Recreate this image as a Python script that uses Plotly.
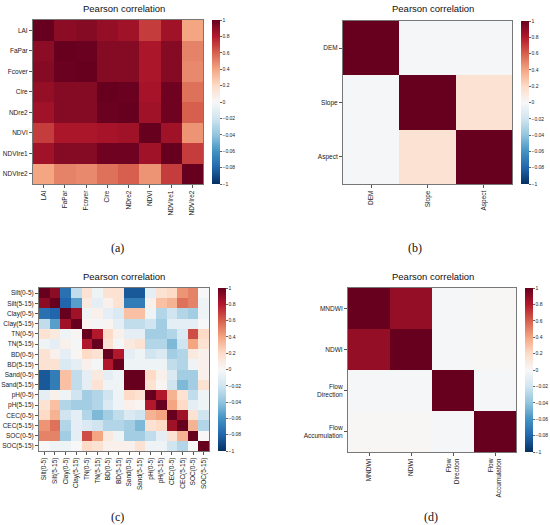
import plotly.graph_objects as go

W, H = 550, 525

# (a) vegetation indices
veg_labels = ["LAI", "FaPar", "Fcover", "Cire", "NDre2", "NDVI", "NDVIre1", "NDVIre2"]
veg_corr = [
    [1.00, 0.90, 0.92, 0.88, 0.85, 0.70, 0.85, 0.40],
    [0.90, 1.00, 0.99, 0.92, 0.92, 0.82, 0.92, 0.50],
    [0.92, 0.99, 1.00, 0.92, 0.92, 0.82, 0.92, 0.48],
    [0.88, 0.92, 0.92, 1.00, 0.99, 0.83, 0.98, 0.55],
    [0.85, 0.92, 0.92, 0.99, 1.00, 0.85, 0.98, 0.60],
    [0.70, 0.82, 0.82, 0.83, 0.85, 1.00, 0.85, 0.45],
    [0.85, 0.92, 0.92, 0.98, 0.98, 0.85, 1.00, 0.70],
    [0.40, 0.50, 0.48, 0.55, 0.60, 0.45, 0.70, 1.00],
]

# (b) terrain
terrain_labels = ["DEM", "Slope", "Aspect"]
terrain_corr = [
    [1.00, -0.01, -0.01],
    [-0.01, 1.00, 0.15],
    [-0.01, 0.15, 1.00],
]

# (c) soil properties
soil_labels = ["Silt(0-5)", "Silt(5-15)", "Clay(0-5)", "Clay(5-15)", "TN(0-5)", "TN(5-15)",
               "BD(0-5)", "BD(5-15)", "Sand(0-5)", "Sand(5-15)", "pH(0-5)", "pH(5-15)",
               "CEC(0-5)", "CEC(5-15)", "SOC(0-5)", "SOC(5-15)"]
soil_corr = [
    [1.00, 0.90, -0.75, -0.25, 0.15, -0.05, 0.15, 0.15, -0.85, -0.85, -0.10, 0.15, 0.20, 0.45, 0.50, 0.00],
    [0.90, 1.00, -0.80, -0.55, 0.10, -0.10, 0.05, 0.15, -0.70, -0.70, 0.05, 0.30, 0.35, 0.55, 0.50, -0.05],
    [-0.75, -0.80, 1.00, 0.85, -0.05, 0.05, -0.10, -0.15, 0.30, 0.30, -0.05, -0.30, -0.20, -0.30, -0.35, -0.05],
    [-0.25, -0.55, 0.85, 1.00, 0.02, -0.02, 0.02, -0.10, -0.25, -0.25, -0.20, -0.35, -0.10, -0.10, -0.10, 0.00],
    [0.15, 0.10, -0.05, 0.02, 1.00, 0.80, 0.20, 0.05, -0.10, -0.10, -0.35, -0.35, -0.30, -0.15, 0.65, 0.20],
    [-0.05, -0.10, 0.05, -0.02, 0.80, 1.00, 0.15, -0.02, 0.10, 0.15, -0.30, -0.30, -0.45, -0.20, 0.40, 0.15],
    [0.15, 0.05, -0.10, 0.02, 0.20, 0.15, 1.00, 0.80, -0.10, -0.05, -0.20, -0.15, -0.35, -0.30, 0.10, 0.05],
    [0.15, 0.15, -0.15, -0.10, 0.05, -0.02, 0.80, 1.00, -0.05, -0.05, -0.05, -0.05, -0.25, -0.30, -0.05, 0.05],
    [-0.85, -0.70, 0.30, -0.25, -0.10, 0.10, -0.10, -0.05, 1.00, 1.00, 0.20, 0.05, -0.15, -0.35, -0.35, 0.05],
    [-0.85, -0.70, 0.30, -0.25, -0.10, 0.15, -0.05, -0.05, 1.00, 1.00, 0.15, 0.02, -0.20, -0.45, -0.35, 0.15],
    [-0.10, 0.05, -0.05, -0.20, -0.35, -0.30, -0.20, -0.05, 0.20, 0.15, 1.00, 0.80, 0.35, 0.15, -0.25, -0.05],
    [0.15, 0.30, -0.30, -0.35, -0.35, -0.30, -0.15, -0.05, 0.05, 0.02, 0.80, 1.00, 0.40, 0.20, -0.10, -0.05],
    [0.20, 0.35, -0.20, -0.10, -0.30, -0.45, -0.35, -0.25, -0.15, -0.20, 0.35, 0.40, 1.00, 0.85, 0.15, -0.20],
    [0.45, 0.55, -0.30, -0.10, -0.15, -0.20, -0.30, -0.30, -0.35, -0.45, 0.15, 0.20, 0.85, 1.00, 0.35, -0.30],
    [0.50, 0.50, -0.35, -0.10, 0.65, 0.40, 0.10, -0.05, -0.35, -0.35, -0.25, -0.10, 0.15, 0.35, 1.00, 0.00],
    [0.00, -0.05, -0.05, 0.00, 0.20, 0.15, 0.05, 0.05, 0.05, 0.15, -0.05, -0.05, -0.20, -0.30, 0.00, 1.00],
]

# (d) water / hydrology
water_labels = ["MNDWI", "NDWI", "Flow<br>Direction", "Flow<br>Accumulation"]
water_corr = [
    [1.00, 0.88, -0.01, 0.01],
    [0.88, 1.00, -0.01, 0.01],
    [-0.01, -0.01, 1.00, -0.01],
    [0.01, 0.01, -0.01, 1.00],
]

# colorbar ticks (labels as printed in the figure)
cbar_vals = [1, 0.8, 0.6, 0.4, 0.2, 0, -0.2, -0.4, -0.6, -0.8, -1]
cbar_text = ["1", "0.8", "0.6", "0.4", "0.2", "0", "\u22120.02", "\u22120.04", "\u22120.06", "\u22120.08", "\u22121"]

# matplotlib RdBu_r
rdbu_r = [
    [0.0, "#053061"], [0.1, "#2166ac"], [0.2, "#4393c3"], [0.3, "#92c5de"],
    [0.4, "#d1e5f0"], [0.5, "#f7f7f7"], [0.6, "#fddbc7"], [0.7, "#f4a582"],
    [0.8, "#d6604d"], [0.9, "#b2182b"], [1.0, "#67001f"],
]

# pixel boxes: left, right, top, bottom of each heatmap
panels = [
    (veg_labels, veg_corr, (33, 203, 20, 184), "(a)", 124, 8, 117, 248),
    (terrain_labels, terrain_corr, (343, 512, 21, 184), "(b)", 433, 8, 415, 248),
    (soil_labels, soil_corr, (39, 209, 288, 451), "(c)", 124, 276, 117, 517),
    (water_labels, water_corr, (348, 516, 288, 452), "(d)", 433, 276, 431, 517),
]

font_family = "Liberation Sans, Arial, sans-serif"
fig = go.Figure()
annotations = []

for i, (labels, corr, box, cap, tx, ty, cx, cy) in enumerate(panels, start=1):
    x0, x1, y0, y1 = box
    sfx = "" if i == 1 else str(i)
    fig.add_trace(go.Heatmap(
        z=corr, x=labels, y=labels,
        xaxis="x" + sfx, yaxis="y" + sfx,
        colorscale=rdbu_r, zmin=-1, zmax=1,
        xgap=0, ygap=0,
        colorbar=dict(
            x=(x1 + 9) / W, xanchor="left",
            y=1 - (y0 + y1) / 2 / H, yanchor="middle",
            len=(y1 - y0) / H, lenmode="fraction",
            thickness=8, outlinewidth=0, xpad=0, ypad=0,
            tickvals=cbar_vals, ticktext=cbar_text,
            ticks="outside", ticklen=2, tickwidth=0.5, tickcolor="#666",
            tickfont=dict(size=5, color="#222", family=font_family),
        ),
    ))
    axis_common = dict(
        showgrid=False, zeroline=False, showline=True, mirror=True,
        linecolor="#777", linewidth=1, ticks="outside", ticklen=3,
        tickcolor="#555", tickwidth=0.6,
        tickfont=dict(size=6.5, color="#222", family=font_family),
    )
    fig.update_layout(**{
        "xaxis" + sfx: dict(domain=[x0 / W, x1 / W], anchor="y" + sfx,
                            tickangle=-90, type="category", **axis_common),
        "yaxis" + sfx: dict(domain=[1 - y1 / H, 1 - y0 / H], anchor="x" + sfx,
                            autorange="reversed", type="category", **axis_common),
    })
    annotations.append(dict(
        text="Pearson correlation", x=tx / W, y=1 - ty / H, xref="paper", yref="paper",
        showarrow=False, xanchor="center", yanchor="middle",
        font=dict(size=9.5, color="#111", family=font_family),
    ))
    annotations.append(dict(
        text=cap, x=cx / W, y=1 - cy / H, xref="paper", yref="paper",
        showarrow=False, xanchor="center", yanchor="middle",
        font=dict(size=12, color="#111", family="Liberation Serif, Times New Roman, serif"),
    ))

fig.update_layout(
    width=W, height=H,
    margin=dict(l=0, r=0, t=0, b=0),
    paper_bgcolor="white", plot_bgcolor="white",
    showlegend=False,
    annotations=annotations,
)

# drop the browser's default body margin so the figure sits at the page corner
fig.write_html("out.html", config={"displayModeBar": False},
               post_script="document.body.style.margin='0';")
